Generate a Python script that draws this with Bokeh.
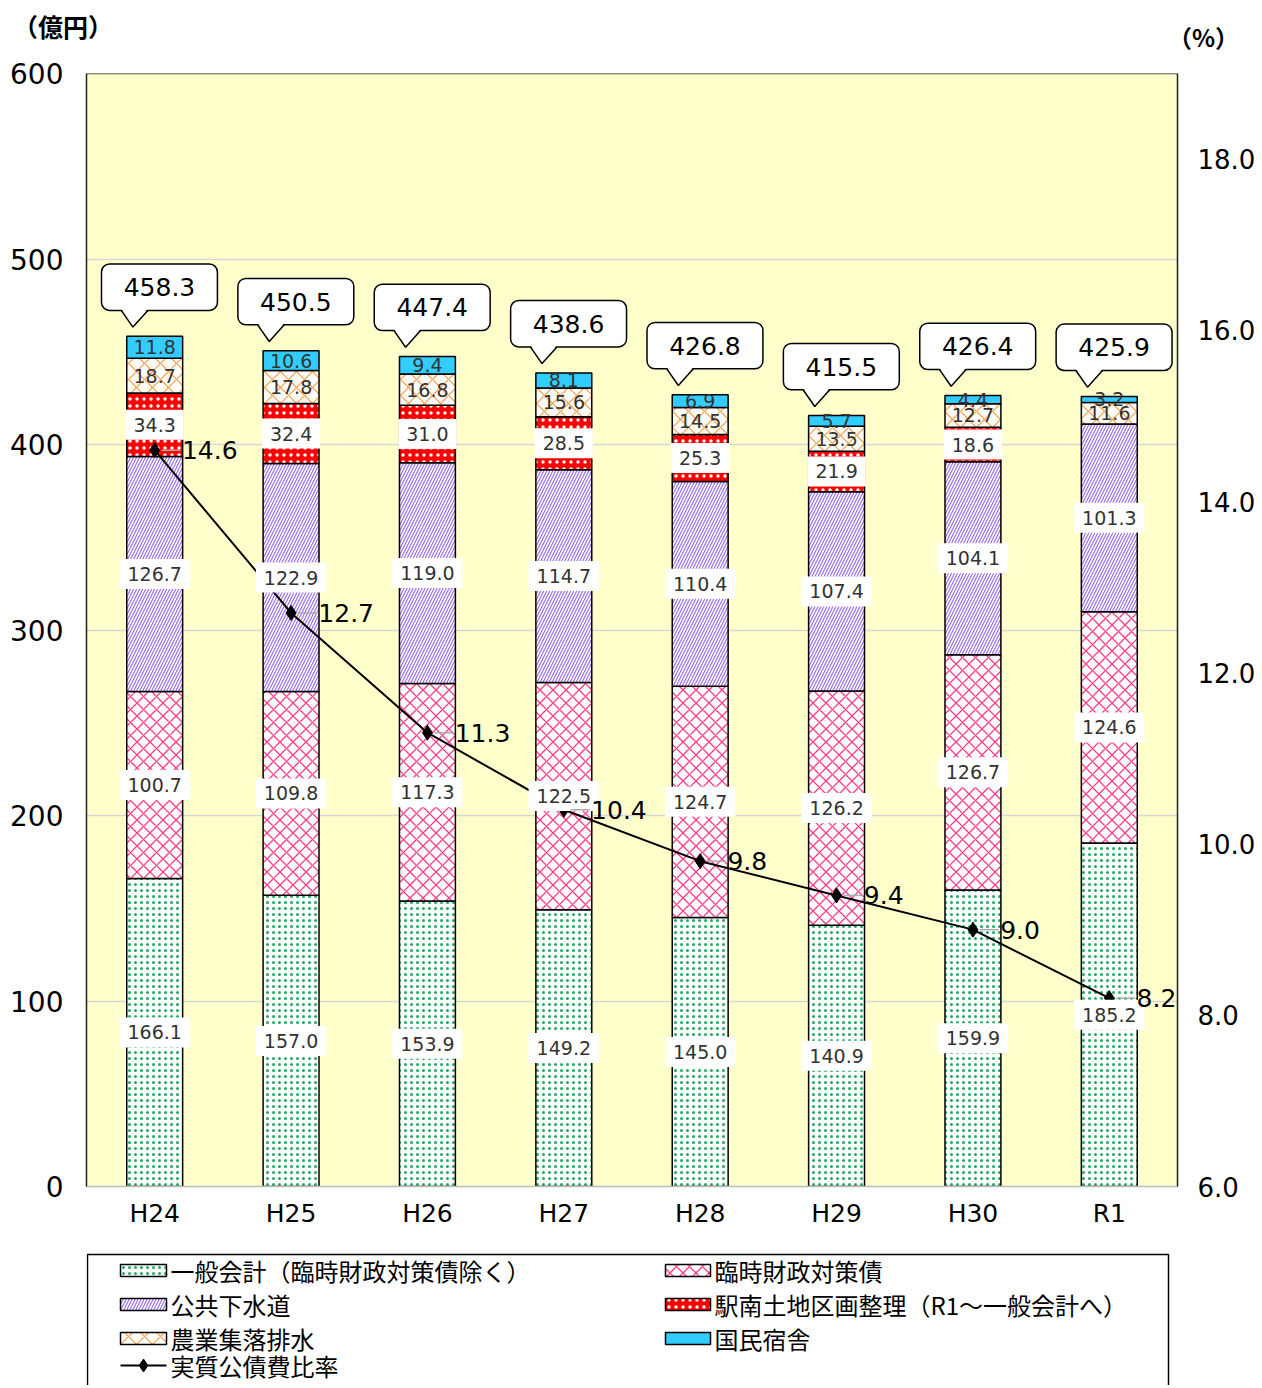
from bokeh.plotting import figure
from bokeh.models import Range1d, LinearAxis, FixedTicker, Span, ColumnDataSource, Div
from bokeh.layouts import column
from bokeh.embed import file_html
from bokeh.resources import INLINE
from bokeh.core.properties import value

# ---------------- data ----------------
categories = ["H24", "H25", "H26", "H27", "H28", "H29", "H30", "R1"]
general = [166.1, 157.0, 153.9, 149.2, 145.0, 140.9, 159.9, 185.2]   # 一般会計（臨時財政対策債除く）
rinji = [100.7, 109.8, 117.3, 122.5, 124.7, 126.2, 126.7, 124.6]     # 臨時財政対策債
sewer = [126.7, 122.9, 119.0, 114.7, 110.4, 107.4, 104.1, 101.3]     # 公共下水道
ekinan = [34.3, 32.4, 31.0, 28.5, 25.3, 21.9, 18.6, 0.0]             # 駅南土地区画整理
nogyo = [18.7, 17.8, 16.8, 15.6, 14.5, 13.5, 12.7, 11.6]             # 農業集落排水
kokumin = [11.8, 10.6, 9.4, 8.1, 6.9, 5.7, 4.4, 3.2]                 # 国民宿舎
totals = [458.3, 450.5, 447.4, 438.6, 426.8, 415.5, 426.4, 425.9]
ratio = [14.6, 12.7, 11.3, 10.4, 9.8, 9.4, 9.0, 8.2]                 # 実質公債費比率
left_ticks = [0, 100, 200, 300, 400, 500, 600]
right_ticks = [6, 8, 10, 12, 14, 16, 18]
right_tick_labels = ["6.0", "8.0", "10.0", "12.0", "14.0", "16.0", "18.0"]
left_unit = "（億円）"
right_unit = "（%）"

series_names = ["一般会計（臨時財政対策債除く）", "臨時財政対策債", "公共下水道",
                "駅南土地区画整理（R1～一般会計へ）", "農業集落排水", "国民宿舎"]
series_values = [general, rinji, sewer, ekinan, nogyo, kokumin]
line_name = "実質公債費比率"

styles = [
    dict(fill_color="white", hatch_pattern="dot", hatch_color="#1FAA5F", hatch_scale=6, hatch_weight=1.5),
    dict(fill_color="white", hatch_pattern="diagonal_cross", hatch_color="#FF3C8C", hatch_scale=13, hatch_weight=1.3),
    dict(fill_color="white", hatch_pattern="right_diagonal_line", hatch_color="#9A6CF0", hatch_scale=6, hatch_weight=1.2),
    dict(fill_color="#FF0000", hatch_pattern="dot", hatch_color="white", hatch_scale=7, hatch_weight=1.0),
    dict(fill_color="white", hatch_pattern="diagonal_cross", hatch_color="#FF9A3C", hatch_scale=16, hatch_weight=1.2),
    dict(fill_color="#33CCFF"),
]
label_boxed = [True, True, True, True, False, False]

NUM_FONT = "DejaVu Sans"
JP_FONT = "Noto Sans CJK JP"

xs = list(range(len(categories)))
BAR_W = 0.41
BL, BR = 86, 80   # left / right borders (px)
FW = 1091         # frame width
HEAD_H = 59       # header height (px)

# ---------------- header with unit labels ----------------
head = Div(width=BL + FW + BR, height=HEAD_H, margin=0, text=(
    f'<div style="position:relative;width:{BL + FW + BR}px;height:{HEAD_H}px;'
    f"font-family:'{JP_FONT}';font-weight:bold;line-height:1;color:black;\">"
    f'<span style="position:absolute;left:13px;top:14px;font-size:25px;white-space:nowrap;">{left_unit}</span>'
    f'<span style="position:absolute;left:1168px;top:25px;font-size:24px;white-space:nowrap;">{right_unit}</span>'
    '</div>'))

# ---------------- main figure ----------------
p = figure(frame_width=FW, frame_height=1113,
           x_range=Range1d(-0.5, 7.5), y_range=Range1d(0, 600),
           output_backend="svg", toolbar_location=None,
           min_border_left=BL, min_border_right=BR, min_border_top=73 - HEAD_H, min_border_bottom=54,
           background_fill_color="#FFFFCC", border_fill_color="white",
           outline_line_color=None)
p.extra_y_ranges = {"right": Range1d(6, 19)}

# axes
p.xaxis.ticker = FixedTicker(ticks=xs)
p.xaxis.major_label_overrides = {i: c for i, c in zip(xs, categories)}
p.xaxis.major_label_text_font = NUM_FONT
p.xaxis.major_label_text_font_size = "25px"
p.xaxis.major_label_text_color = "black"
p.xaxis.major_label_standoff = 6
p.xaxis.major_tick_line_color = None
p.xaxis.minor_tick_line_color = None
p.xaxis.axis_line_color = "#BBBBBB"
p.xaxis.axis_line_width = 1.5

p.yaxis.ticker = FixedTicker(ticks=left_ticks)
p.yaxis.major_label_text_font = NUM_FONT
p.yaxis.major_label_text_font_size = "28px"
p.yaxis.major_label_text_color = "black"
p.yaxis.major_label_standoff = 17
p.yaxis.major_tick_line_color = None
p.yaxis.minor_tick_line_color = None
p.yaxis.axis_line_color = "#222222"
p.yaxis.axis_line_width = 1.5

ra = LinearAxis(y_range_name="right", ticker=FixedTicker(ticks=right_ticks))
ra.major_label_overrides = {t: l for t, l in zip(right_ticks, right_tick_labels)}
ra.major_label_text_font = NUM_FONT
ra.major_label_text_font_size = "26px"
ra.major_label_text_color = "black"
ra.major_label_standoff = 14
ra.major_tick_line_color = None
ra.minor_tick_line_color = None
ra.axis_line_color = "#222222"
ra.axis_line_width = 1.5
p.add_layout(ra, "right")

p.xgrid.visible = False
p.ygrid.ticker = FixedTicker(ticks=left_ticks)
p.ygrid.grid_line_color = "#D6D6D6"
p.ygrid.grid_line_width = 1.5

p.add_layout(Span(location=600, dimension="width", line_color="#222222", line_width=1.5))

# stacked bars
bottom = [0.0] * len(xs)
label_sets = []
for name, vals, st, boxed in zip(series_names, series_values, styles, label_boxed):
    top = [b + v for b, v in zip(bottom, vals)]
    src = ColumnDataSource(dict(x=xs, bottom=bottom, top=top))
    p.vbar(x="x", bottom="bottom", top="top", width=BAR_W, source=src,
           line_color="black", line_width=1.5, **st)
    lx, ly, lt = [], [], []
    for i, (b, v) in enumerate(zip(bottom, vals)):
        if v > 0:
            lx.append(i)
            ly.append(b + v / 2)
            lt.append(f"{v:.1f}")
    label_sets.append((lx, ly, lt, boxed))
    bottom = top

# ratio line
p.line(xs, ratio, y_range_name="right", line_color="black", line_width=2)
p.scatter(xs, ratio, y_range_name="right", marker="diamond", size=15, color="black")

# segment labels
for lx, ly, lt, boxed in label_sets:
    kw = dict(background_fill_color="white", padding=8) if boxed else {}
    p.text(x=lx, y=ly, text=lt, text_align="center", text_baseline="middle",
           text_font=value(NUM_FONT), text_font_size="19px", text_color="#333333", **kw)

# ratio leaders + labels
p.segment(x0=[x + 0.05 for x in xs], x1=[x + 0.19 for x in xs], y0=ratio, y1=ratio,
          y_range_name="right", line_color="#AAAAAA", line_width=1.5)
p.text(x=[x + 0.2 for x in xs], y=ratio, text=[f"{r:.1f}" for r in ratio],
       y_range_name="right", text_align="left", text_baseline="middle",
       text_font=value(NUM_FONT), text_font_size="25px", text_color="black")

# callouts with totals
b_bot = [t + 14 for t in totals]
b_top = [t + 39 for t in totals]
p.quad(left=[x - 0.39 for x in xs], right=[x + 0.46 for x in xs], bottom=b_bot, top=b_top,
       fill_color="white", line_color="black", line_width=1.5, border_radius=8)
tip_x = [x - 0.16 for x in xs]
tip_y = [t + 5 for t in totals]
p.patches(xs=[[tx - 0.085, tx + 0.11, tx] for tx in tip_x],
          ys=[[bb + 1.0, bb + 1.0, ty] for bb, ty in zip(b_bot, tip_y)],
          fill_color="white", line_color=None)
p.multi_line(xs=[[tx - 0.085, tx, tx + 0.11] for tx in tip_x],
             ys=[[bb, ty, bb] for bb, ty in zip(b_bot, tip_y)],
             line_color="black", line_width=1.5)
p.text(x=[x + 0.035 for x in xs], y=[(a + b) / 2 for a, b in zip(b_bot, b_top)],
       text=[f"{t:.1f}" for t in totals], text_align="center", text_baseline="middle",
       text_font=value(NUM_FONT), text_font_size="25px", text_color="black")

# ---------------- legend figure (x in page pixels) ----------------
LH = 145
leg = figure(frame_width=FW, frame_height=LH, x_range=Range1d(BL, BL + FW), y_range=Range1d(LH, 0),
             x_axis_location=None, y_axis_location=None, toolbar_location=None,
             output_backend="svg", min_border_left=BL, min_border_right=BR,
             min_border_top=0, min_border_bottom=0, outline_line_color=None,
             background_fill_color="white", border_fill_color="white")
leg.grid.visible = False

bx0, bx1, by0 = 87, 1168, 14
leg.multi_line(xs=[[bx0, bx0, bx1, bx1]], ys=[[LH, by0, by0, LH]], line_color="black", line_width=1.5)

rows = [30, 64, 98, 125]
cols = [(120, 166, 170), (665, 710, 714)]
positions = [(0, 0), (1, 0), (0, 1), (1, 1), (0, 2), (1, 2)]
for name, st, (c, r) in zip(series_names, styles, positions):
    g0, g1, tx = cols[c]
    yy = rows[r]
    leg.quad(left=[g0], right=[g1], top=[yy - 6], bottom=[yy + 6],
             line_color="black", line_width=1.5, **st)
    leg.text(x=[tx], y=[yy], text=[name], text_align="left", text_baseline="middle",
             text_font=value(JP_FONT), text_font_size="24px", text_color="black")
g0, g1, tx = cols[0]
yy = rows[3]
leg.line([g0, g1], [yy, yy], line_color="black", line_width=2)
leg.scatter([(g0 + g1) / 2], [yy], marker="diamond", size=13, color="black")
leg.text(x=[tx], y=[yy], text=[line_name], text_align="left", text_baseline="middle",
         text_font=value(JP_FONT), text_font_size="24px", text_color="black")

layout = column(head, p, leg)
open("out.html", "w").write(file_html(layout, INLINE))
